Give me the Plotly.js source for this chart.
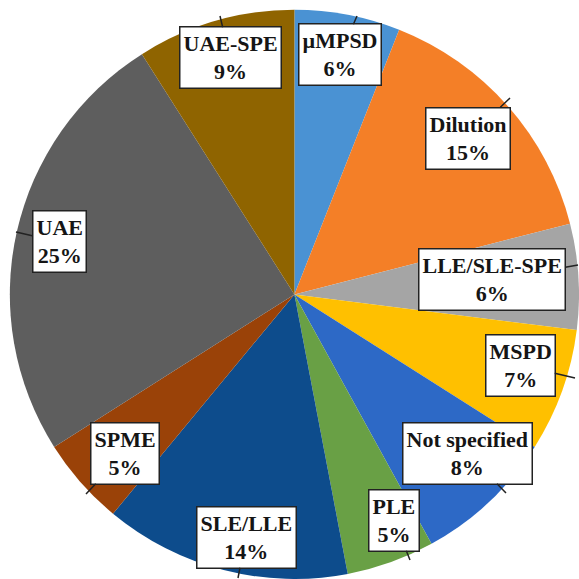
<!DOCTYPE html>
<html>
<head>
<meta charset="utf-8">
<script src="https://cdn.plot.ly/plotly-3.0.1.min.js"></script>
<style>
  html, body { margin: 0; padding: 0; background: #ffffff; }
  #chart { width: 579px; height: 579px; }
</style>
</head>
<body>
<div id="chart"></div>
<script>
// Share of sample-preparation techniques (%), clockwise from 12 o'clock
const methods = ["µMPSD", "Dilution", "LLE/SLE-SPE", "MSPD", "Not specified",
                 "PLE", "SLE/LLE", "SPME", "UAE", "UAE-SPE"];
const shares = [6, 15, 6, 7, 8, 5, 14, 5, 25, 9];
const sliceColors = ["#4a92d3", "#f47f27", "#a5a5a5", "#ffc000", "#2d69c6",
                     "#69a045", "#0d4c8c", "#9a4208", "#5e5e5e", "#8f6400"];

// Callout boxes: centre of the box and the tip of its pointer, in pixels
const boxCentre = [[340, 55], [468, 138], [492, 280], [520, 365], [467, 453],
                   [394, 520], [246, 537], [125, 453], [59, 242], [230, 58]];
const pointerTip = [[357, 16], [510, 98], [579, 265], [575, 378], [506, 493],
                    [410, 560], [238, 578], [86, 494], [16, 232], [220, 16]];

const W = 579, H = 579;

const trace = {
  type: "pie",
  labels: methods,
  values: shares,
  sort: false,
  direction: "clockwise",
  rotation: 0,
  marker: { colors: sliceColors, line: { width: 0 } },
  textinfo: "none",
  hoverinfo: "label+percent",
  domain: { x: [0.017, 1], y: [0, 0.983] }
};

const annotations = methods.map((m, i) => {
  const [cx, cy] = boxCentre[i];
  const [tx, ty] = pointerTip[i];
  return {
    xref: "paper", yref: "paper",
    x: tx / W, y: 1 - ty / H,
    ax: cx - tx, ay: cy - ty,
    axref: "pixel", ayref: "pixel",
    showarrow: true, arrowhead: 0, arrowwidth: 1.5, arrowcolor: "#222222",
    text: "<b>" + m + "<br>" + shares[i] + "%</b>",
    font: { family: "Liberation Serif", size: 22, color: "#151515" },
    bgcolor: "#ffffff",
    bordercolor: "#222222",
    borderwidth: 1.5,
    borderpad: 3,
    align: "center"
  };
});

const layout = {
  width: W, height: H,
  margin: { l: 0, r: 0, t: 0, b: 0 },
  paper_bgcolor: "#ffffff",
  showlegend: false,
  annotations: annotations
};

Plotly.newPlot("chart", [trace], layout, { displayModeBar: false, staticPlot: true });
</script>
</body>
</html>
